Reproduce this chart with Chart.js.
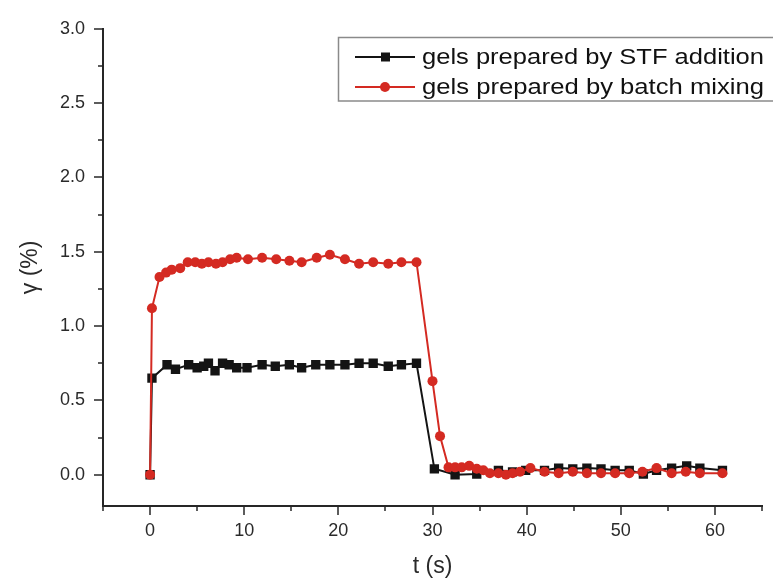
<!DOCTYPE html>
<html>
<head>
<meta charset="utf-8">
<script src="https://cdn.jsdelivr.net/npm/chart.js@4.4.0/dist/chart.umd.min.js"></script>
<style>
  html, body { margin: 0; padding: 0; background: #fff; }
</style>
</head>
<body>
<canvas id="lineChart" width="773" height="584"></canvas>
<script>
// gels prepared by STF addition (black squares)
const tStf = [0, 0.2, 1.8, 2.7, 4.1, 5.0, 5.7, 6.2, 6.9, 7.7,
  8.4, 9.2, 10.3, 11.9, 13.3, 14.8, 16.1, 17.6, 19.1, 20.7,
  22.2, 23.7, 25.3, 26.7, 28.3, 30.2, 32.4, 34.7, 37.0, 38.5,
  39.9, 41.9, 43.4, 44.9, 46.4, 47.9, 49.4, 50.9, 52.4, 53.8,
  55.4, 57.0, 58.4, 60.8];
const gammaStf = [0, 0.65, 0.74, 0.71, 0.74, 0.72, 0.73, 0.75, 0.70, 0.75,
  0.74, 0.72, 0.72, 0.74, 0.73, 0.74, 0.72, 0.74, 0.74, 0.74,
  0.75, 0.75, 0.73, 0.74, 0.75, 0.04, 0.0, 0.005, 0.03, 0.02,
  0.03, 0.03, 0.045, 0.04, 0.045, 0.04, 0.03, 0.03, 0.005, 0.03,
  0.045, 0.06, 0.045, 0.03];

// gels prepared by batch mixing (red circles)
const tBatch = [0, 0.2, 1.0, 1.7, 2.3, 3.2, 4.0, 4.8, 5.5, 6.2,
  7.0, 7.7, 8.5, 9.2, 10.4, 11.9, 13.4, 14.8, 16.1, 17.7,
  19.1, 20.7, 22.2, 23.7, 25.3, 26.7, 28.3, 30.0, 30.8, 31.7,
  32.4, 33.1, 33.9, 34.7, 35.4, 36.1, 37.0, 37.8, 38.5, 39.3,
  40.4, 41.9, 43.4, 44.9, 46.4, 47.9, 49.4, 50.9, 52.3, 53.8,
  55.4, 56.9, 58.4, 60.8];
const gammaBatch = [0, 1.12, 1.33, 1.36, 1.38, 1.39, 1.43, 1.43, 1.42, 1.43,
  1.42, 1.43, 1.45, 1.46, 1.45, 1.46, 1.45, 1.44, 1.43, 1.46,
  1.48, 1.45, 1.42, 1.43, 1.42, 1.43, 1.43, 0.63, 0.26, 0.05,
  0.05, 0.05, 0.06, 0.04, 0.03, 0.01, 0.01, 0.0, 0.01, 0.02,
  0.045, 0.02, 0.01, 0.02, 0.01, 0.01, 0.01, 0.01, 0.02, 0.045,
  0.01, 0.02, 0.01, 0.01];

const seriesNames = ['gels prepared by STF addition', 'gels prepared by batch mixing'];
const xTickValues = [0, 10, 20, 30, 40, 50, 60];
const yTickValues = [0, 0.5, 1.0, 1.5, 2.0, 2.5, 3.0];
const yTickLabels = ['0.0', '0.5', '1.0', '1.5', '2.0', '2.5', '3.0'];

const BLACK = '#141414';
const RED = '#d42a22';
const AXIS = '#262626';
const FONT = '"Liberation Sans", Arial, sans-serif';

const toPoints = (ts, vs) => ts.map((t, i) => ({x: t, y: vs[i]}));

// tick marks: major ones longer, minor ones between
const axisTicks = {
  id: 'axisTicks',
  afterDraw(chart) {
    const {ctx, scales: {x, y}} = chart;
    ctx.save();
    ctx.strokeStyle = AXIS;
    ctx.lineWidth = 1.5;
    for (let v = -5; v <= 65; v += 5) {
      const px = Math.round(x.getPixelForValue(v));
      const len = (v % 10 === 0) ? 9 : 5;
      ctx.beginPath();
      ctx.moveTo(px, x.top);
      ctx.lineTo(px, x.top + len);
      ctx.stroke();
    }
    for (let i = 0; i <= 12; i++) {
      const v = i * 0.25;
      const py = Math.round(y.getPixelForValue(v));
      const len = (i % 2 === 0) ? 9 : 5;
      ctx.beginPath();
      ctx.moveTo(y.right, py);
      ctx.lineTo(y.right - len, py);
      ctx.stroke();
    }
    ctx.restore();
  }
};

// boxed legend in the top right corner
const boxLegend = {
  id: 'boxLegend',
  afterDraw(chart) {
    const ctx = chart.ctx;
    const rows = [57, 87];
    ctx.save();
    ctx.strokeStyle = '#8a8a8a';
    ctx.lineWidth = 1.5;
    ctx.strokeRect(338.5, 37.5, 480, 63.5);
    chart.data.datasets.forEach((ds) => {
      const yy = rows[ds.legendRow];
      ctx.strokeStyle = ds.borderColor;
      ctx.lineWidth = 2;
      ctx.beginPath();
      ctx.moveTo(355, yy);
      ctx.lineTo(415, yy);
      ctx.stroke();
      ctx.fillStyle = ds.borderColor;
      if (ds.pointStyle === 'rect') {
        ctx.fillRect(381, yy - 4.5, 9, 9);
      } else {
        ctx.beginPath();
        ctx.arc(385, yy, 5, 0, Math.PI * 2);
        ctx.fill();
      }
      ctx.fillStyle = '#111';
      ctx.font = '22px ' + FONT;
      ctx.textBaseline = 'middle';
      const w = ctx.measureText(ds.label).width;
      const sx = 342 / w;
      ctx.save();
      ctx.translate(422, yy + 1);
      ctx.scale(sx, 1);
      ctx.fillText(ds.label, 0, 0);
      ctx.restore();
    });
    ctx.restore();
  }
};

const ctxLine = document.getElementById('lineChart');
const lineChart = new Chart(ctxLine, {
  type: 'line',
  data: {
    datasets: [{
      label: seriesNames[1],
      legendRow: 1,
      data: toPoints(tBatch, gammaBatch),
      borderColor: RED,
      backgroundColor: RED,
      borderWidth: 2,
      pointStyle: 'circle',
      pointRadius: 5,
      pointBorderWidth: 0,
      tension: 0,
      order: 0
    }, {
      label: seriesNames[0],
      legendRow: 0,
      data: toPoints(tStf, gammaStf),
      borderColor: BLACK,
      backgroundColor: BLACK,
      borderWidth: 2,
      pointStyle: 'rect',
      pointRadius: 6.6,
      pointBorderWidth: 0,
      tension: 0,
      order: 1
    }]
  },
  options: {
    responsive: false,
    animation: false,
    layout: { padding: { top: 23, right: 11, left: 0, bottom: 0 } },
    plugins: { legend: { display: false }, tooltip: { enabled: false } },
    scales: {
      x: {
        type: 'linear',
        min: -5,
        max: 65,
        grid: { drawOnChartArea: false, drawTicks: false },
        border: { color: AXIS, width: 2 },
        afterBuildTicks: (s) => { s.ticks = xTickValues.map(v => ({value: v})); },
        ticks: {
          autoSkip: false,
          maxRotation: 0,
          padding: 14,
          color: '#2a2a2a',
          font: { family: FONT, size: 18 },
          callback: (v) => String(v)
        },
        title: {
          display: true,
          text: 't (s)',
          color: '#2a2a2a',
          font: { family: FONT, size: 23 },
          padding: { top: 0, bottom: 4 }
        },
        afterFit: (s) => { s.height = 78; }
      },
      y: {
        type: 'linear',
        min: -0.21,
        max: 3.0,
        grid: { drawOnChartArea: false, drawTicks: false },
        border: { color: AXIS, width: 2 },
        afterBuildTicks: (s) => { s.ticks = yTickValues.map(v => ({value: v})); },
        ticks: {
          autoSkip: false,
          padding: 18,
          color: '#2a2a2a',
          font: { family: FONT, size: 18 },
          callback: (v) => yTickLabels[yTickValues.indexOf(v)]
        },
        title: {
          display: true,
          text: 'γ (%)',
          color: '#2a2a2a',
          font: { family: FONT, size: 23 },
          padding: { top: 17, bottom: 0 }
        },
        afterFit: (s) => { s.width = 103; }
      }
    }
  },
  plugins: [axisTicks, boxLegend]
});
</script>
</body>
</html>
